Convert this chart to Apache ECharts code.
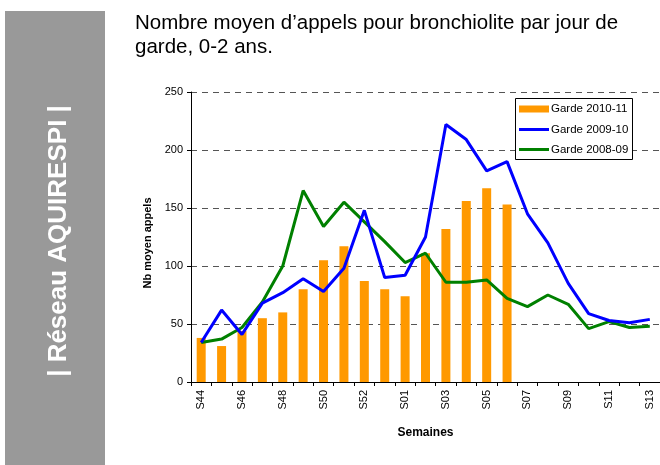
<!DOCTYPE html>
<html>
<head>
<meta charset="utf-8">
<script src="https://cdn.jsdelivr.net/npm/echarts@6/dist/echarts.min.js"></script>
<style>
  body { margin: 0; background: #fff; }
  #chart { width: 660px; height: 465px; }
</style>
</head>
<body>
<div id="chart"></div>
<script>
// semaines de garde
const weeks = ['S44', 'S45', 'S46', 'S47', 'S48', 'S49', 'S50', 'S51', 'S52', 'S53',
  'S01', 'S02', 'S03', 'S04', 'S05', 'S06', 'S07', 'S08', 'S09', 'S10', 'S11', 'S12', 'S13']
// Garde 2010-11 (barres)
const garde2010 = [38, 31, 44, 55, 60, 80, 105, 117, 87, 80, 74, 111, 132, 156, 167, 153]
// Garde 2009-10
const garde2009 = [34, 62, 41, 68, 77, 89, 78, 98, 148, 90, 92, 125, 222, 209, 182, 190, 145, 120, 85, 59, 53, 51, 54]
// Garde 2008-09
const garde2008 = [34, 37, 47, 69, 100, 165, 134, 155, 138, 121, 103, 111, 86, 86, 88, 72, 65, 75, 67, 46, 52, 47, 48]
const yTicks = { min: 0, max: 250, interval: 50 }

const font = 'Liberation Sans, Arial, sans-serif'

// une légende par série, dans un cadre commun (graphic)
function legendItem (name, top, iconHeight) {
  return {
    orient: 'vertical',
    left: 519,
    top: top,
    padding: 0,
    z: 10,
    itemWidth: 30,
    itemHeight: iconHeight,
    icon: 'rect',
    textStyle: { fontSize: 11.5, color: '#000', fontFamily: font, padding: [0, 0, 0, -3] },
    data: [name]
  }
}

let mycharts = echarts.init(document.getElementById('chart'))
mycharts.setOption({
  animation: false,
  textStyle: { fontFamily: font },
  title: {
    text: 'Nombre moyen d\u2019appels pour bronchiolite par jour de\ngarde, 0-2 ans.',
    left: 130,
    top: 7,
    textStyle: { fontFamily: font, fontSize: 20.5, fontWeight: 'normal', color: '#000', lineHeight: 23.5 }
  },
  graphic: [
    {
      type: 'rect',
      shape: { x: 5, y: 11, width: 100, height: 460 },
      style: { fill: '#999999' },
      z: -1
    },
    {
      type: 'text',
      x: 59,
      y: 241,
      rotation: Math.PI / 2,
      style: {
        text: '| R\u00e9seau AQUIRESPI |',
        fill: '#fff',
        font: 'bold 26px ' + font,
        textAlign: 'center',
        textVerticalAlign: 'middle'
      }
    },
    {
      type: 'rect',
      shape: { x: 515.5, y: 98.5, width: 117, height: 61 },
      style: { fill: '#fff', stroke: '#000', lineWidth: 1 },
      z: 5
    }
  ],
  legend: [
    legendItem('Garde 2010-11', 103, 7),
    legendItem('Garde 2009-10', 123.5, 3),
    legendItem('Garde 2008-09', 143.5, 3)
  ],
  grid: {
    left: 191,
    top: 92,
    width: 471,
    height: 290,
    containLabel: false
  },
  xAxis: {
    type: 'category',
    data: weeks,
    boundaryGap: true,
    name: 'Semaines',
    nameLocation: 'middle',
    nameGap: 45,
    nameTextStyle: { fontWeight: 'bold', fontSize: 12, color: '#000' },
    axisLine: { show: true, lineStyle: { color: '#000', width: 1 } },
    axisTick: { show: true, interval: 0, length: 4, lineStyle: { color: '#000' } },
    axisLabel: { interval: 1, rotate: 90, fontSize: 11, color: '#000', margin: 8 },
    splitLine: { show: false }
  },
  yAxis: {
    type: 'value',
    min: yTicks.min,
    max: yTicks.max,
    interval: yTicks.interval,
    name: 'Nb moyen appels',
    nameLocation: 'middle',
    nameGap: 37,
    nameTextStyle: { fontWeight: 'bold', fontSize: 11, color: '#000', padding: [0, 12, 0, 0] },
    axisLine: { show: true, lineStyle: { color: '#000', width: 1 } },
    axisTick: { show: true, length: 4, lineStyle: { color: '#000' } },
    axisLabel: { fontSize: 11, color: '#000', margin: 8 },
    splitLine: { show: true, lineStyle: { color: '#555', width: 1, type: [6, 5] } }
  },
  series: [
    {
      name: 'Garde 2010-11',
      type: 'bar',
      data: garde2010,
      barWidth: 9,
      itemStyle: { color: '#FF9900' },
      z: 1
    },
    {
      name: 'Garde 2009-10',
      type: 'line',
      data: garde2009,
      symbol: 'none',
      lineStyle: { color: '#0000FF', width: 3 },
      itemStyle: { color: '#0000FF' },
      z: 3
    },
    {
      name: 'Garde 2008-09',
      type: 'line',
      data: garde2008,
      symbol: 'none',
      lineStyle: { color: '#008000', width: 3 },
      itemStyle: { color: '#008000' },
      z: 2
    }
  ]
})
</script>
</body>
</html>
